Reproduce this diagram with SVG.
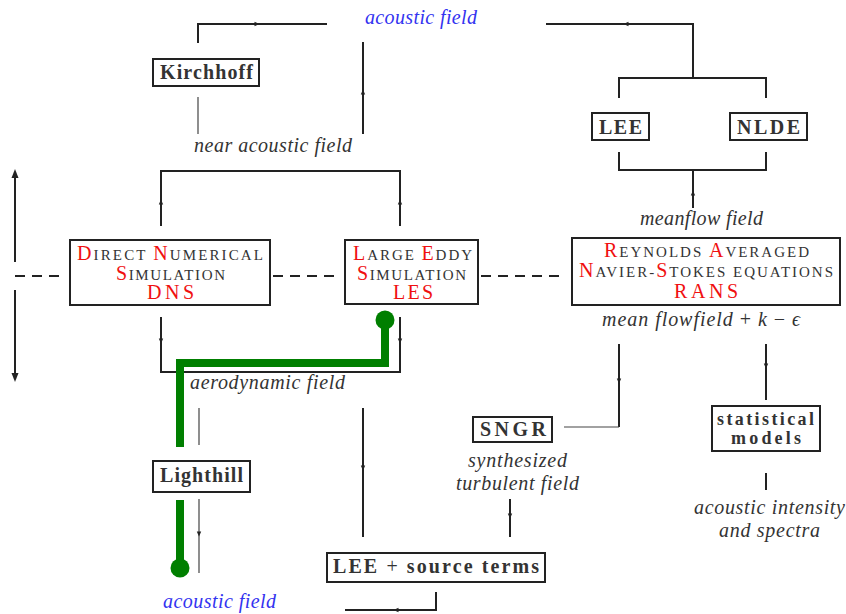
<svg xmlns="http://www.w3.org/2000/svg" width="846" height="614" viewBox="0 0 846 614">
<style>
.ln{fill:none;stroke:#222;stroke-width:2}
.thin{fill:none;stroke:#444;stroke-width:1.2}
.dash{fill:none;stroke:#222;stroke-width:2;stroke-dasharray:10 7}
.box{fill:#fff;stroke:#222;stroke-width:2}
.green{fill:none;stroke:#007f00;stroke-width:8}
.gdot{fill:#007f00}
.ah{fill:#222}
.txt{fill:#333}
.blue{fill:#3333f0}
.red{fill:#f01010}
</style>
<rect width="846" height="614" fill="#fff"/>
<g id="connectors">
<path class="ln" d="M198,43 V24 H327"/>
<path class="ln" d="M546,24 H693 V78"/>
<path class="ln" d="M619,98 V78 H766 V98"/>
<path class="ln" d="M619,152 V170 H766 V152"/>
<path class="ln" d="M693,170 V208"/>
<path class="thin" d="M198,97 V134"/>
<path class="ln" d="M363,42 V134"/>
<path class="ln" d="M161,226 V171 H400 V226"/>
<path class="ln" d="M15,262 V176"/>
<path class="ln" d="M15,290 V375"/>
<path class="dash" d="M15,276 H62"/>
<path class="dash" d="M273,276 H338"/>
<path class="dash" d="M481,276 H566"/>
<path class="ln" d="M161,317 V372 H400 V317"/>
<path class="thin" d="M199,408 V445"/>
<path class="thin" d="M199,499 V573"/>
<path class="ln" d="M363,408 V537"/>
<path class="ln" d="M619,344 V427"/>
<path class="thin" d="M619,427 H564"/>
<path class="ln" d="M766,344 V400"/>
<path class="ln" d="M766,473 V490"/>
<path class="ln" d="M510,499 V537"/>
<path class="ln" d="M436,592 V610 H345"/>
<path class="ah" d="M259.5,24 L254.5,21.8 L254.5,26.2 Z"/>
<path class="ah" d="M623.5,24 L628.5,21.8 L628.5,26.2 Z"/>
<path class="ah" d="M363,89.5 L360.8,94.5 L365.2,94.5 Z"/>
<path class="ah" d="M161,199.5 L158.8,204.5 L163.2,204.5 Z"/>
<path class="ah" d="M400,199.5 L397.8,204.5 L402.2,204.5 Z"/>
<path class="ah" d="M693,190.5 L690.8,195.5 L695.2,195.5 Z"/>
<path class="ah" d="M161,343.5 L158.8,338.5 L163.2,338.5 Z"/>
<path class="ah" d="M400,343.5 L397.8,338.5 L402.2,338.5 Z"/>
<path class="ah" d="M363,470.5 L360.8,465.5 L365.2,465.5 Z"/>
<path class="ah" d="M199,536.5 L196.8,531.5 L201.2,531.5 Z"/>
<path class="ah" d="M619,383.5 L616.8,378.5 L621.2,378.5 Z"/>
<path class="ah" d="M766,368.5 L763.8,363.5 L768.2,363.5 Z"/>
<path class="ah" d="M510,518.5 L507.8,513.5 L512.2,513.5 Z"/>
<path class="ah" d="M393.5,610 L398.5,607.8 L398.5,612.2 Z"/>
<path class="ah" d="M15,169 L11.5,178 L18.5,178 Z"/>
<path class="ah" d="M15,382 L11.5,373 L18.5,373 Z"/>
<path class="green" d="M385,320 V363 H180 V447"/>
<path class="green" d="M180,500 V568"/>
<circle class="gdot" cx="385" cy="320" r="9.5"/>
<circle class="gdot" cx="180" cy="568" r="9.5"/>
</g>
<g id="labels" font-family="Liberation Serif" font-style="italic" font-size="20">
<text class="blue" font-family="Liberation Serif" x="365" y="24" textLength="112">acoustic field</text>
<text class="txt" font-family="Liberation Serif" x="194" y="152" textLength="158">near acoustic field</text>
<text class="txt" font-family="Liberation Serif" x="640" y="225" textLength="123">meanflow field</text>
<text class="txt" font-family="Liberation Serif" x="602" y="326" textLength="198">mean flowfield <tspan font-style="normal">+</tspan> k <tspan font-style="normal">−</tspan> ϵ</text>
<text class="txt" font-family="Liberation Serif" x="190" y="389" textLength="155">aerodynamic field</text>
<text class="txt" font-family="Liberation Serif" x="468" y="467" textLength="99">synthesized</text>
<text class="txt" font-family="Liberation Serif" x="456" y="490" textLength="123">turbulent field</text>
<text class="txt" font-family="Liberation Serif" x="694" y="514" textLength="151">acoustic intensity</text>
<text class="txt" font-family="Liberation Serif" x="719" y="537" textLength="101">and spectra</text>
<text class="blue" font-family="Liberation Serif" x="163" y="608" textLength="113">acoustic field</text>
</g>
<g id="kirchhoff">
<rect class="box" x="153" y="59" width="106" height="27"/>
<text class="txt" font-family="Liberation Serif" font-weight="bold" font-size="20" x="160" y="79" textLength="93">Kirchhoff</text>
</g>
<g id="lee">
<rect class="box" x="592" y="113" width="57" height="27"/>
<text class="txt" font-family="Liberation Serif" font-weight="bold" font-size="20" x="599" y="134" textLength="43">LEE</text>
</g>
<g id="nlde">
<rect class="box" x="730" y="113" width="77" height="27"/>
<text class="txt" font-family="Liberation Serif" font-weight="bold" font-size="20" x="737" y="134" textLength="63">NLDE</text>
</g>
<g id="dns">
<rect class="box" x="70" y="240" width="200" height="65"/>
<text class="txt" font-family="Liberation Serif" font-size="20" x="77" y="260" textLength="186"><tspan class="red">D</tspan><tspan font-size="15">IRECT </tspan><tspan class="red">N</tspan><tspan font-size="15">UMERICAL</tspan></text>
<text class="txt" font-family="Liberation Serif" font-size="20" x="116" y="280" textLength="109"><tspan class="red">S</tspan><tspan font-size="15">IMULATION</tspan></text>
<text class="red" font-family="Liberation Serif" font-size="20" x="147" y="299" textLength="47">DNS</text>
</g>
<g id="les">
<rect class="box" x="345" y="240" width="133" height="64"/>
<text class="txt" font-family="Liberation Serif" font-size="20" x="353" y="260" textLength="119"><tspan class="red">L</tspan><tspan font-size="15">ARGE </tspan><tspan class="red">E</tspan><tspan font-size="15">DDY</tspan></text>
<text class="txt" font-family="Liberation Serif" font-size="20" x="357" y="280" textLength="109"><tspan class="red">S</tspan><tspan font-size="15">IMULATION</tspan></text>
<text class="red" font-family="Liberation Serif" font-size="20" x="393" y="299" textLength="40">LES</text>
</g>
<g id="rans">
<rect class="box" x="572" y="238" width="268" height="67"/>
<text class="txt" font-family="Liberation Serif" font-size="20" x="604" y="257" textLength="205"><tspan class="red">R</tspan><tspan font-size="15">EYNOLDS </tspan><tspan class="red">A</tspan><tspan font-size="15">VERAGED</tspan></text>
<text class="txt" font-family="Liberation Serif" font-size="20" x="579" y="277" textLength="254"><tspan class="red">N</tspan><tspan font-size="15">AVIER-</tspan><tspan class="red">S</tspan><tspan font-size="15">TOKES EQUATIONS</tspan></text>
<text class="red" font-family="Liberation Serif" font-size="20" x="674" y="298" textLength="64">RANS</text>
</g>
<g id="sngr">
<rect class="box" x="473" y="417" width="79" height="25"/>
<text class="txt" font-family="Liberation Serif" font-weight="bold" font-size="20" x="480" y="436" textLength="66">SNGR</text>
</g>
<g id="statistical">
<rect class="box" x="712" y="406" width="108" height="45"/>
<text class="txt" font-family="Liberation Serif" font-weight="bold" font-size="18" x="717" y="425" textLength="97">statistical</text>
<text class="txt" font-family="Liberation Serif" font-weight="bold" font-size="18" x="731" y="444" textLength="70">models</text>
</g>
<g id="lighthill">
<rect class="box" x="153" y="461" width="97" height="31"/>
<text class="txt" font-family="Liberation Serif" font-weight="bold" font-size="20" x="160" y="482" textLength="83">Lighthill</text>
</g>
<g id="lee-source">
<rect class="box" x="327" y="553" width="218" height="29"/>
<text class="txt" font-family="Liberation Serif" font-weight="bold" font-size="20" x="333" y="573" textLength="206">LEE <tspan font-weight="normal">+</tspan> source terms</text>
</g>
</svg>
